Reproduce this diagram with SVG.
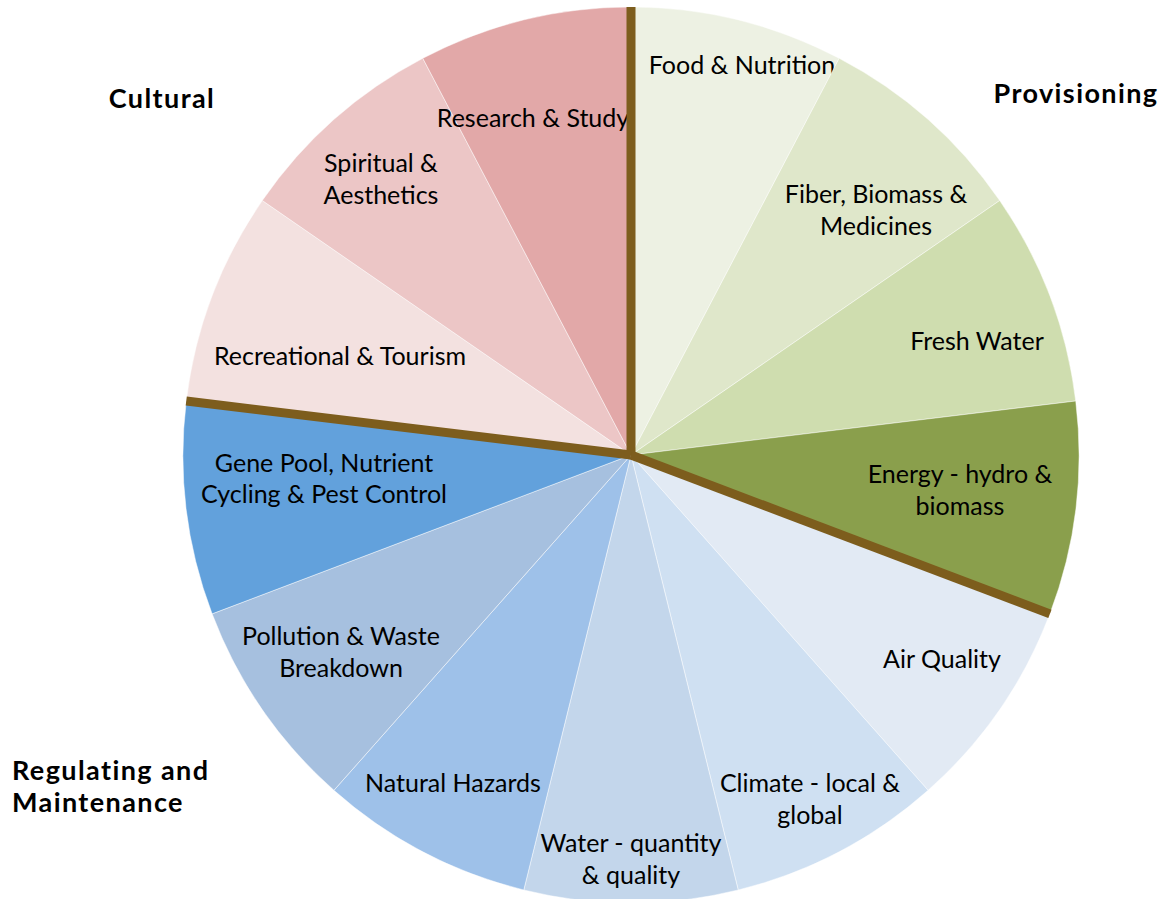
<svg xmlns="http://www.w3.org/2000/svg" width="1168" height="899" viewBox="0 0 1168 899">
<style>
.s{stroke:#ffffff;stroke-width:0.8;stroke-opacity:0.6}
.sep{stroke:#7D5D1D;stroke-width:9;fill:none;stroke-linecap:butt}
.t{font-family:"Lato","Open Sans",sans-serif;font-size:25px;fill:#000;text-anchor:middle}
.h{font-family:"Lato","Open Sans",sans-serif;font-size:27px;font-weight:bold;fill:#000;letter-spacing:1.4px}
</style>
<rect width="1168" height="899" fill="#ffffff"/>
<g id="slices">
<g id="food"><path class="s" fill="#EDF1E3" d="M631,455 L631,7 A448,448 0 0 1 839.19,58.31 Z"/><text class="t" x="742" y="74">Food &amp; Nutrition</text></g>
<g id="fiber"><path class="s" fill="#DFE7CA" d="M631,455 L839.19,58.31 A448,448 0 0 1 999.70,200.51 Z"/><text class="t" x="876" y="203">Fiber, Biomass &amp;</text><text class="t" x="876" y="235">Medicines</text></g>
<g id="freshwater"><path class="s" fill="#CFDDAF" d="M631,455 L999.70,200.51 A448,448 0 0 1 1075.73,401.00 Z"/><text class="t" x="977" y="350">Fresh Water</text></g>
<g id="energy"><path class="s" fill="#8A9F4C" d="M631,455 L1075.73,401.00 A448,448 0 0 1 1049.89,613.86 Z"/><text class="t" x="960" y="483">Energy - hydro &amp;</text><text class="t" x="960" y="515">biomass</text></g>
<g id="air"><path class="s" fill="#E2EAF4" d="M631,455 L1049.89,613.86 A448,448 0 0 1 928.08,790.33 Z"/><text class="t" x="942" y="668">Air Quality</text></g>
<g id="climate"><path class="s" fill="#CFE0F2" d="M631,455 L928.08,790.33 A448,448 0 0 1 738.22,889.98 Z"/><text class="t" x="810" y="792">Climate - local &amp;</text><text class="t" x="810" y="824">global</text></g>
<g id="water"><path class="s" fill="#C3D6EB" d="M631,455 L738.22,889.98 A448,448 0 0 1 523.78,889.98 Z"/><text class="t" x="631" y="852">Water - quantity</text><text class="t" x="631" y="884">&amp; quality</text></g>
<g id="hazards"><path class="s" fill="#9EC1E9" d="M631,455 L523.78,889.98 A448,448 0 0 1 333.92,790.33 Z"/><text class="t" x="453" y="792">Natural Hazards</text></g>
<g id="pollution"><path class="s" fill="#A6C0DF" d="M631,455 L333.92,790.33 A448,448 0 0 1 212.11,613.86 Z"/><text class="t" x="341" y="645">Pollution &amp; Waste</text><text class="t" x="341" y="677">Breakdown</text></g>
<g id="genepool"><path class="s" fill="#62A1DC" d="M631,455 L212.11,613.86 A448,448 0 0 1 186.27,401.00 Z"/><text class="t" x="324" y="472">Gene Pool, Nutrient</text><text class="t" x="324" y="503">Cycling &amp; Pest Control</text></g>
<g id="recreational"><path class="s" fill="#F3E1E0" d="M631,455 L186.27,401.00 A448,448 0 0 1 262.30,200.51 Z"/><text class="t" x="340" y="365">Recreational &amp; Tourism</text></g>
<g id="spiritual"><path class="s" fill="#ECC6C6" d="M631,455 L262.30,200.51 A448,448 0 0 1 422.81,58.31 Z"/><text class="t" x="381" y="172">Spiritual &amp;</text><text class="t" x="381" y="204">Aesthetics</text></g>
<g id="research"><path class="s" fill="#E2A8A8" d="M631,455 L422.81,58.31 A448,448 0 0 1 631,7 Z"/><text class="t" x="533" y="127">Research &amp; Study</text></g>
</g>
<g id="connectors">
<line class="sep" x1="631" y1="455" x2="631" y2="7"/>
<line class="sep" x1="631" y1="455" x2="1049.89" y2="613.86"/>
<line class="sep" x1="631" y1="455" x2="186.27" y2="401.00"/>
</g>
<g id="categories">
<text class="h" x="1076" y="103" text-anchor="middle">Provisioning</text>
<text class="h" x="162" y="108" text-anchor="middle">Cultural</text>
<text class="h" x="12" y="780">Regulating and</text>
<text class="h" x="12" y="812">Maintenance</text>
</g>
</svg>
